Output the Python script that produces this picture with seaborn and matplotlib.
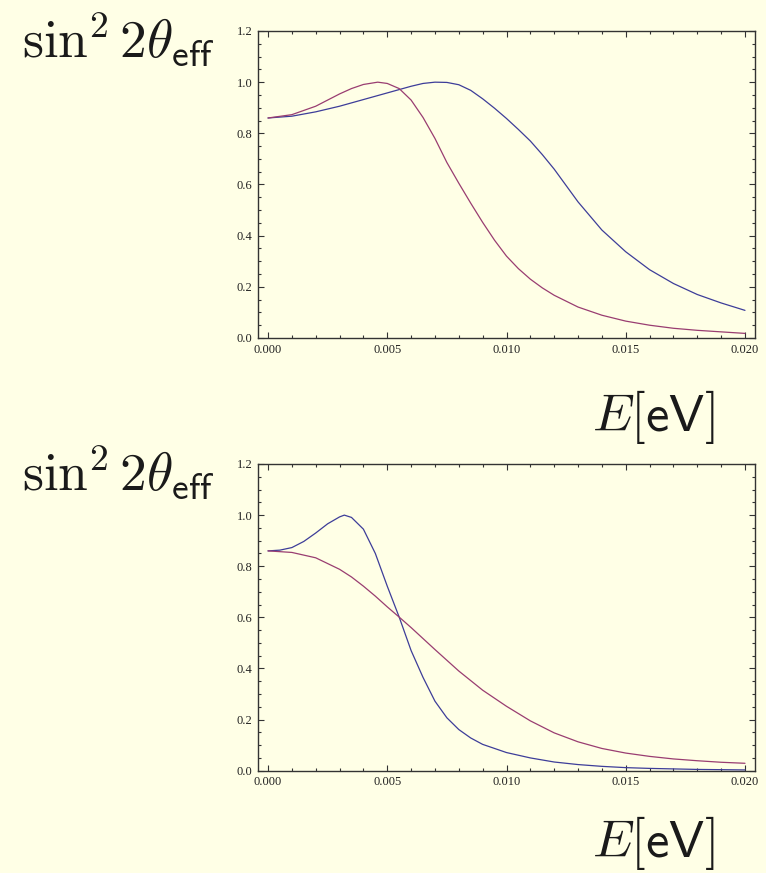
import numpy as np
import pandas as pd
import seaborn as sns
import matplotlib.pyplot as plt
from matplotlib.ticker import MultipleLocator, FormatStrFormatter

# values
# top panel
E_top_blue = [0.000, 0.001, 0.002, 0.003, 0.004, 0.005, 0.006, 0.0065, 0.007, 0.0075,
              0.008, 0.0085, 0.009, 0.0095, 0.010, 0.0105, 0.011, 0.0115, 0.012, 0.013,
              0.014, 0.015, 0.016, 0.017, 0.018, 0.019, 0.020]
S_top_blue = [0.860, 0.867, 0.884, 0.906, 0.932, 0.958, 0.984, 0.995, 1.000, 0.999,
              0.990, 0.968, 0.935, 0.898, 0.858, 0.815, 0.770, 0.717, 0.660, 0.532,
              0.422, 0.337, 0.267, 0.213, 0.170, 0.137, 0.108]

E_top_purple = [0.000, 0.001, 0.002, 0.003, 0.0035, 0.004, 0.0046, 0.005, 0.0055, 0.006,
                0.0065, 0.007, 0.0075, 0.008, 0.0085, 0.009, 0.0095, 0.010, 0.0105, 0.011,
                0.0115, 0.012, 0.013, 0.014, 0.015, 0.016, 0.017, 0.018, 0.019, 0.020]
S_top_purple = [0.860, 0.873, 0.906, 0.954, 0.975, 0.991, 1.000, 0.995, 0.975, 0.930,
                0.862, 0.780, 0.686, 0.605, 0.527, 0.452, 0.382, 0.320, 0.271, 0.230,
                0.196, 0.167, 0.121, 0.089, 0.066, 0.050, 0.038, 0.030, 0.024, 0.018]

# bottom panel
E_bot_blue = [0.000, 0.0005, 0.001, 0.0015, 0.002, 0.0025, 0.003, 0.0032, 0.0035, 0.004,
              0.0045, 0.005, 0.0055, 0.006, 0.0065, 0.007, 0.0075, 0.008, 0.0085, 0.009,
              0.010, 0.011, 0.012, 0.013, 0.014, 0.015, 0.016, 0.017, 0.018, 0.019, 0.020]
S_bot_blue = [0.860, 0.863, 0.873, 0.897, 0.930, 0.966, 0.993, 1.000, 0.991, 0.945,
              0.850, 0.722, 0.601, 0.470, 0.365, 0.272, 0.207, 0.161, 0.128, 0.103,
              0.071, 0.050, 0.034, 0.024, 0.017, 0.012, 0.009, 0.007, 0.005, 0.004, 0.003]

E_bot_purple = [0.000, 0.001, 0.002, 0.003, 0.0035, 0.004, 0.0045, 0.005, 0.0055, 0.006,
                0.0065, 0.007, 0.008, 0.009, 0.010, 0.011, 0.012, 0.013, 0.014, 0.015,
                0.016, 0.017, 0.018, 0.019, 0.020]
S_bot_purple = [0.860, 0.854, 0.833, 0.788, 0.758, 0.722, 0.683, 0.641, 0.601, 0.560,
                0.517, 0.474, 0.390, 0.315, 0.252, 0.195, 0.148, 0.113, 0.087, 0.069,
                0.056, 0.046, 0.039, 0.033, 0.029]

blue = '#3D3D99'
purple = '#993D71'
bg = '#FFFFE6'

sns.set_style('ticks')
plt.rcParams['font.family'] = ['Liberation Serif', 'DejaVu Serif']
plt.rcParams['mathtext.fontset'] = 'cm'


def make_df(e1, s1, e2, s2):
    a = pd.DataFrame({'E': e1, 's2': s1, 'curve': 'blue'})
    b = pd.DataFrame({'E': e2, 's2': s2, 'curve': 'purple'})
    return pd.concat([a, b], ignore_index=True)


fig = plt.figure(figsize=(7.66, 8.73), dpi=100, facecolor=bg)
W, H = 766, 873
ax_top = fig.add_axes([258 / W, 1 - 338 / H, (755 - 258) / W, (338 - 31) / H])
ax_bot = fig.add_axes([258 / W, 1 - 770.7 / H, (755 - 258) / W, (770.7 - 464) / H])

# axes, data, baseline of y-label text, baseline of x-label text (pixels from top)
panels = [
    (ax_top, make_df(E_top_blue, S_top_blue, E_top_purple, S_top_purple), 58, 431),
    (ax_bot, make_df(E_bot_blue, S_bot_blue, E_bot_purple, S_bot_purple), 491, 857),
]

for ax, df, ylab_px, xlab_px in panels:
    ax.set_facecolor(bg)
    sns.lineplot(data=df, x='E', y='s2', hue='curve', palette={'blue': blue, 'purple': purple},
                 estimator=None, legend=False, linewidth=0.9, ax=ax)
    ax.set_xlim(-0.00042, 0.02042)
    ax.set_ylim(0, 1.2)
    ax.xaxis.set_major_locator(MultipleLocator(0.005))
    ax.xaxis.set_minor_locator(MultipleLocator(0.001))
    ax.yaxis.set_major_locator(MultipleLocator(0.2))
    ax.yaxis.set_minor_locator(MultipleLocator(0.05))
    ax.xaxis.set_major_formatter(FormatStrFormatter('%.3f'))
    ax.yaxis.set_major_formatter(FormatStrFormatter('%.1f'))
    ax.tick_params(which='both', direction='in', top=True, right=True,
                   color='#333333', width=0.8, labelsize=9, labelcolor='#222222')
    ax.tick_params(which='major', length=4, pad=4)
    ax.tick_params(which='minor', length=2)
    ax.set_xlabel('')
    ax.set_ylabel('')
    for sp in ax.spines.values():
        sp.set_color('#333333')
        sp.set_linewidth(1.0)

    # axis labels placed like the reference
    fig.text(22 / W, 1 - ylab_px / H, r'$\sin^2 2\theta_{\mathsf{eff}}$',
             fontsize=38.5, ha='left', va='baseline', color='#1a1a1a')
    fig.text(592 / W, 1 - xlab_px / H, r'$E[\mathsf{eV}]$',
             fontsize=38, ha='left', va='baseline', color='#1a1a1a')

fig.savefig('out.png', dpi=100, facecolor=bg)
